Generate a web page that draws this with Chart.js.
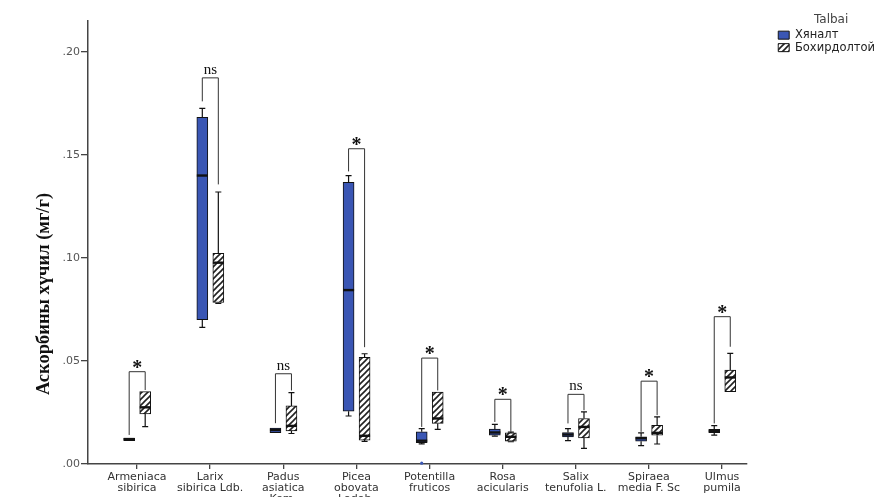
<!DOCTYPE html>
<html lang="mn">
<head>
<meta charset="utf-8">
<title>Аскорбины хүчил</title>
<script src="https://cdn.jsdelivr.net/npm/chart.js"></script>
<style>
  html, body { margin: 0; padding: 0; background: #fff; overflow: hidden; }
  #wrap { width: 876px; height: 510px; }
</style>
</head>
<body>
<div id="wrap"><canvas id="boxChart"></canvas></div>
<script>
  // species (x categories)
  const cats = [
    ['Armeniaca', 'sibirica'],
    ['Larix', 'sibirica Ldb.'],
    ['Padus', 'asiatica', 'Kom.'],
    ['Picea', 'obovata', 'Ledeb.'],
    ['Potentilla', 'fruticos'],
    ['Rosa', 'acicularis'],
    ['Salix', 'tenufolia L.'],
    ['Spiraea', 'media F. Sc'],
    ['Ulmus', 'pumila']
  ];
  const seriesNames = ['Хяналт', 'Бохирдолтой'];

  // Хяналт (control)
  const ctrlMin = [0.0113, 0.0663, 0.0151, 0.0233, 0.0098, 0.0135, 0.0113, 0.0089, 0.0140];
  const ctrlQ1  = [0.0113, 0.0700, 0.0152, 0.0256, 0.0103, 0.0140, 0.0132, 0.0111, 0.0152];
  const ctrlMed = [0.0121, 0.1400, 0.0165, 0.0844, 0.0113, 0.0153, 0.0143, 0.0125, 0.0160];
  const ctrlQ3  = [0.0124, 0.1683, 0.0174, 0.1367, 0.0156, 0.0169, 0.0153, 0.0132, 0.0168];
  const ctrlMax = [0.0124, 0.1726, 0.0176, 0.1400, 0.0172, 0.0192, 0.0172, 0.0151, 0.0186];
  const ctrlOut = [null, null, null, null, 0.0004, null, null, null, null];

  // Бохирдолтой (polluted)
  const polMin = [0.0181, 0.0780, 0.0148, 0.0110, 0.0168, 0.0108, 0.0076, 0.0097, 0.0350];
  const polQ1  = [0.0243, 0.0784, 0.0161, 0.0116, 0.0197, 0.0111, 0.0127, 0.0140, 0.0351];
  const polMed = [0.0275, 0.0977, 0.0185, 0.0137, 0.0221, 0.0132, 0.0180, 0.0151, 0.0420];
  const polQ3  = [0.0351, 0.1023, 0.0282, 0.0518, 0.0349, 0.0151, 0.0221, 0.0188, 0.0456];
  const polMax = [0.0351, 0.1320, 0.0346, 0.0535, 0.0350, 0.0155, 0.0253, 0.0229, 0.0537];

  // significance brackets
  const sigTop   = [0.0448, 0.1874, 0.0438, 0.1530, 0.0514, 0.0314, 0.0338, 0.0402, 0.0715];
  const sigLeft  = [0.0141, 0.1760, 0.0198, 0.1420, 0.0180, 0.0204, 0.0197, 0.0156, 0.0197];
  const sigRight = [0.0359, 0.1357, 0.0357, 0.0567, 0.0357, 0.0156, 0.0261, 0.0237, 0.0569];
  const sigLabel = ['*', 'ns', 'ns', '*', '*', '*', 'ns', '*', '*'];

  const yTicks = [0, 0.05, 0.10, 0.15, 0.20];
  const yTitle = 'Аскорбины хүчил (мг/г)';

  // hatch fill for the second group
  function makeHatch() {
    const c = document.createElement('canvas');
    c.width = 6; c.height = 6;
    const g = c.getContext('2d');
    g.fillStyle = '#fff';
    g.fillRect(0, 0, 6, 6);
    g.strokeStyle = '#222';
    g.lineWidth = 1.6;
    g.beginPath();
    g.moveTo(-1, 7); g.lineTo(7, -1);
    g.moveTo(-1, 1); g.lineTo(1, -1);
    g.moveTo(5, 7); g.lineTo(7, 5);
    g.stroke();
    return g.createPattern(c, 'repeat');
  }

  const boxExtras = {
    id: 'boxExtras',
    afterDatasetsDraw(chart) {
      const ctx = chart.ctx;
      const y = chart.scales.y;
      const groups = [
        { meta: chart.getDatasetMeta(0), lo: ctrlMin, q1: ctrlQ1, med: ctrlMed, q3: ctrlQ3, hi: ctrlMax, out: ctrlOut },
        { meta: chart.getDatasetMeta(1), lo: polMin, q1: polQ1, med: polMed, q3: polQ3, hi: polMax, out: null }
      ];
      ctx.save();
      groups.forEach(g => {
        g.meta.data.forEach((bar, i) => {
          const x = bar.x, w = bar.width;
          const yq1 = y.getPixelForValue(g.q1[i]);
          const yq3 = y.getPixelForValue(g.q3[i]);
          const ylo = y.getPixelForValue(g.lo[i]);
          const yhi = y.getPixelForValue(g.hi[i]);
          ctx.strokeStyle = '#111';
          ctx.lineWidth = 1.2;
          ctx.beginPath();
          if (yhi < yq3 - 0.5) {
            ctx.moveTo(x, yq3); ctx.lineTo(x, yhi);
            ctx.moveTo(x - 3, yhi); ctx.lineTo(x + 3, yhi);
          }
          if (ylo > yq1 + 0.5) {
            ctx.moveTo(x, yq1); ctx.lineTo(x, ylo);
            ctx.moveTo(x - 3, ylo); ctx.lineTo(x + 3, ylo);
          }
          ctx.stroke();
          ctx.lineWidth = 2.4;
          ctx.beginPath();
          const ym = y.getPixelForValue(g.med[i]);
          ctx.moveTo(x - w / 2, ym); ctx.lineTo(x + w / 2, ym);
          ctx.stroke();
          if (g.out && g.out[i] != null) {
            ctx.fillStyle = '#3a56b4';
            ctx.beginPath();
            ctx.arc(x, y.getPixelForValue(g.out[i]), 1.6, 0, Math.PI * 2);
            ctx.fill();
          }
        });
      });

      // brackets
      const m0 = chart.getDatasetMeta(0), m1 = chart.getDatasetMeta(1);
      ctx.strokeStyle = '#333';
      ctx.lineWidth = 1;
      ctx.fillStyle = '#111';
      ctx.textAlign = 'center';
      cats.forEach((c, i) => {
        const xl = m0.data[i].x, xr = m1.data[i].x;
        const yt = y.getPixelForValue(sigTop[i]);
        ctx.beginPath();
        ctx.moveTo(xl, y.getPixelForValue(sigLeft[i]));
        ctx.lineTo(xl, yt);
        ctx.lineTo(xr, yt);
        ctx.lineTo(xr, y.getPixelForValue(sigRight[i]));
        ctx.stroke();
        ctx.textBaseline = 'alphabetic';
        if (sigLabel[i] === 'ns') {
          ctx.font = '15px "Liberation Serif"';
          ctx.fillText('ns', (xl + xr) / 2, yt - 4);
        } else {
          ctx.font = 'bold 20px "Liberation Serif"';
          ctx.fillText(sigLabel[i], (xl + xr) / 2, yt + 2);
        }
      });

      // y axis title
      ctx.save();
      ctx.translate(44, y.getPixelForValue(0.0825));
      ctx.rotate(-Math.PI / 2);
      ctx.font = 'bold 18.5px "Liberation Serif"';
      ctx.textBaseline = 'middle';
      ctx.fillStyle = '#111';
      ctx.fillText(yTitle, 0, 0);
      ctx.restore();
      ctx.restore();
    }
  };

  const hatch = makeHatch();

  new Chart(document.getElementById('boxChart'), {
    type: 'bar',
    data: {
      datasets: [{
        label: seriesNames[0],
        data: cats.map((c, i) => ({ x: i - 0.107, y: [ctrlQ1[i], ctrlQ3[i]] })),
        backgroundColor: '#3a56b4',
        borderColor: '#111',
        borderWidth: 1,
        borderSkipped: false,
        barThickness: 11,
        grouped: false
      }, {
        label: seriesNames[1],
        data: cats.map((c, i) => ({ x: i + 0.112, y: [polQ1[i], polQ3[i]] })),
        backgroundColor: hatch,
        borderColor: '#111',
        borderWidth: 1,
        borderSkipped: false,
        barThickness: 11,
        grouped: false
      }]
    },
    options: {
      responsive: true,
      maintainAspectRatio: false,
      animation: false,
      layout: { padding: { left: 0, top: 0, bottom: 0, right: -9 } },
      scales: {
        x: {
          type: 'linear',
          min: -0.67,
          max: 8.33,
          offset: false,
          afterBuildTicks: s => { s.ticks = cats.map((c, i) => ({ value: i })); },
          afterFit: s => { s.height = 46; },
          grid: { display: true, drawOnChartArea: false, drawTicks: true, tickLength: 5, color: '#444', lineWidth: 1.3, offset: false },
          border: { display: true, color: '#444', width: 1.5 },
          ticks: {
            autoSkip: false, maxRotation: 0, minRotation: 0, padding: 3,
            color: '#333',
            font: { family: 'DejaVu Sans', size: 11, lineHeight: 1.0 },
            callback: v => cats[v]
          }
        },
        y: {
          min: 0,
          max: 0.215,
          afterBuildTicks: s => { s.ticks = yTicks.map(v => ({ value: v })); },
          afterFit: s => { s.width = 88; },
          grid: { display: true, drawOnChartArea: false, drawTicks: true, tickLength: 7, color: '#444', lineWidth: 1.3 },
          border: { display: true, color: '#444', width: 1.5 },
          ticks: {
            padding: 1,
            color: '#555',
            font: { family: 'DejaVu Sans', size: 11 },
            callback: v => v.toFixed(2).replace(/^0/, '')
          }
        },
        xTop: {
          type: 'linear', position: 'top', display: true,
          grid: { display: false }, ticks: { display: false }, border: { display: false },
          afterFit: s => { s.height = 21; }
        },
        yPad: {
          type: 'linear', position: 'right', display: true,
          grid: { display: false }, ticks: { display: false }, border: { display: false },
          afterFit: s => { s.width = 31; }
        }
      },
      plugins: {
        tooltip: { enabled: false },
        legend: {
          position: 'right',
          align: 'start',
          title: {
            display: true, text: 'Talbai', color: '#444',
            font: { family: 'DejaVu Sans', size: 12 },
            padding: { top: 14, bottom: 0 }
          },
          labels: {
            boxWidth: 11, boxHeight: 8, padding: 1,
            color: '#222',
            font: { family: 'DejaVu Sans', size: 11.5 }
          }
        }
      }
    },
    plugins: [boxExtras]
  });
</script>
</body>
</html>
